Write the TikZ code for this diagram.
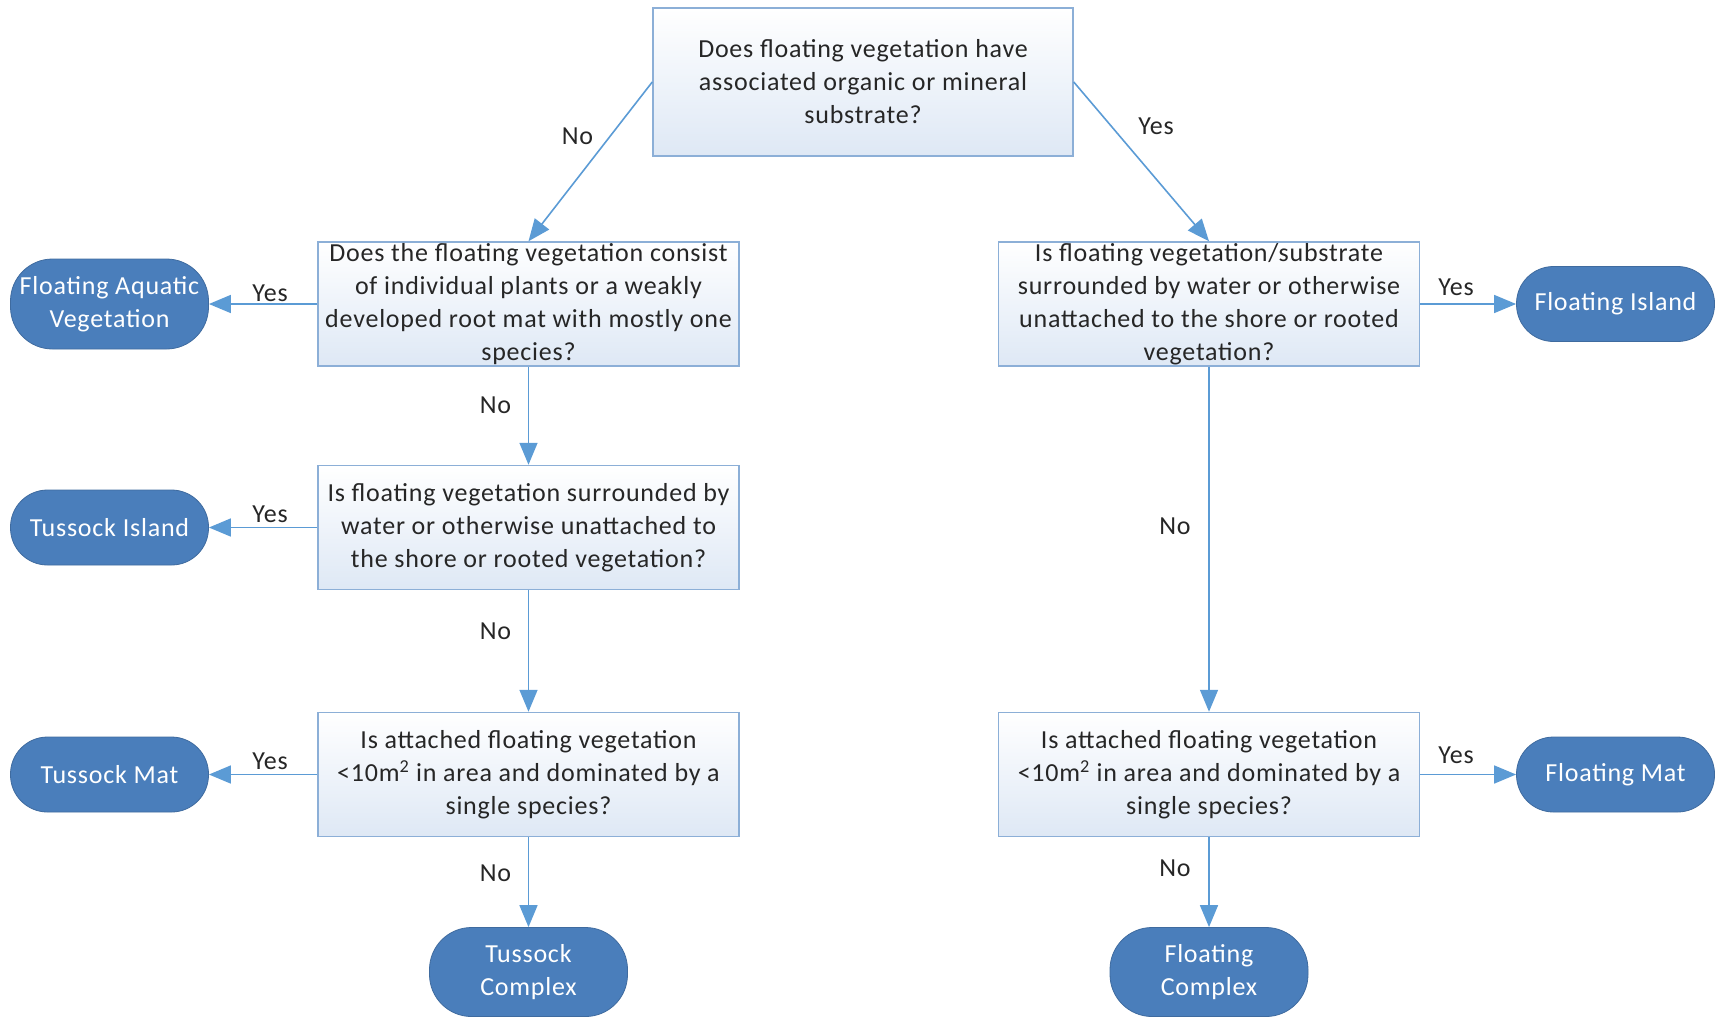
\documentclass[tikz,border=0pt]{standalone}
\usepackage{fontspec}
\setmainfont{Carlito}[LetterSpace=3]
\usetikzlibrary{arrows.meta}
\definecolor{lineblue}{RGB}{91,155,213}
\definecolor{boxedge}{RGB}{140,175,215}
\definecolor{termfill}{RGB}{74,126,187}
\definecolor{txt}{RGB}{38,38,38}
\definecolor{boxbot}{RGB}{222,232,245}
\begin{document}
\begin{tikzpicture}[x=1pt,y=-1pt, font=\fontsize{26}{33}\selectfont,
 qbox/.style={draw=boxedge, line width=1.5pt, top color=white, bottom color=boxbot, minimum width=421pt, minimum height=124pt, inner sep=0pt, align=center, text=txt},
 term/.style={fill=termfill, draw=termfill!85!black, line width=0.8pt, rounded corners=37pt, minimum width=198pt, minimum height=75pt, text=white, align=center, inner sep=0pt},
 conn/.style={draw=lineblue, line width=1.6pt, -{Triangle[length=22pt,width=18pt]}},
 lab/.style={text=txt, inner sep=0pt}]
\useasboundingbox (0,0) rectangle (1715,1018);

\node[qbox, minimum width=420pt, minimum height=148pt] (top) at (863,82) {Does floating vegetation have\\associated organic or mineral\\substrate?};

\node[qbox] (L1) at (528.5,304) {Does the floating vegetation consist\\of individual plants or a weakly\\developed root mat with mostly one\\species?};
\node[qbox] (L2) at (528.5,527.5) {Is floating vegetation surrounded by\\water or otherwise unattached to\\the shore or rooted vegetation?};
\node[qbox] (L3) at (528.5,774.5) {Is attached floating vegetation\\<10m\textsuperscript{2} in area and dominated by a\\single species?};

\node[qbox] (R1) at (1209,304) {Is floating vegetation/substrate\\surrounded by water or otherwise\\unattached to the shore or rooted\\vegetation?};
\node[qbox] (R3) at (1209,774.5) {Is attached floating vegetation\\<10m\textsuperscript{2} in area and dominated by a\\single species?};

\node[term, minimum height=90pt, rounded corners=42pt] (FAV) at (109.5,304) {Floating Aquatic\\Vegetation};
\node[term] (TI) at (109.5,527.5) {Tussock Island};
\node[term] (TM) at (109.5,774.5) {Tussock Mat};
\node[term] (FI) at (1615.5,304) {Floating Island};
\node[term] (FM) at (1615.5,774.5) {Floating Mat};
\node[term, minimum height=89pt, rounded corners=42pt] (TC) at (528.5,972) {Tussock\\Complex};
\node[term, minimum height=89pt, rounded corners=42pt] (FC) at (1209,972) {Floating\\Complex};

\draw[conn] (top.west) -- (L1.north);
\draw[conn] (top.east) -- (R1.north);
\draw[conn] (L1.west) -- (FAV.east);
\draw[conn] (L1.south) -- (L2.north);
\draw[conn] (L2.west) -- (TI.east);
\draw[conn] (L2.south) -- (L3.north);
\draw[conn] (L3.west) -- (TM.east);
\draw[conn] (L3.south) -- (TC.north);
\draw[conn] (R1.east) -- (FI.west);
\draw[conn] (R1.south) -- (R3.north);
\draw[conn] (R3.east) -- (FM.west);
\draw[conn] (R3.south) -- (FC.north);

\node[lab] (n1) at (577.5,136) {No};
\node[lab] (y1) at (1156,126) {Yes};
\node[lab] (y2) at (270,293) {Yes};
\node[lab] (y3) at (270,514) {Yes};
\node[lab] (y4) at (270,761) {Yes};
\node[lab] (n2) at (495.5,405) {No};
\node[lab] (n3) at (495.5,631) {No};
\node[lab] (n4) at (495.5,873) {No};
\node[lab] (n5) at (1175,526) {No};
\node[lab] (n6) at (1175,868.5) {No};
\node[lab] (y5) at (1456,287) {Yes};
\node[lab] (y6) at (1456,755) {Yes};
\end{tikzpicture}
\end{document}
